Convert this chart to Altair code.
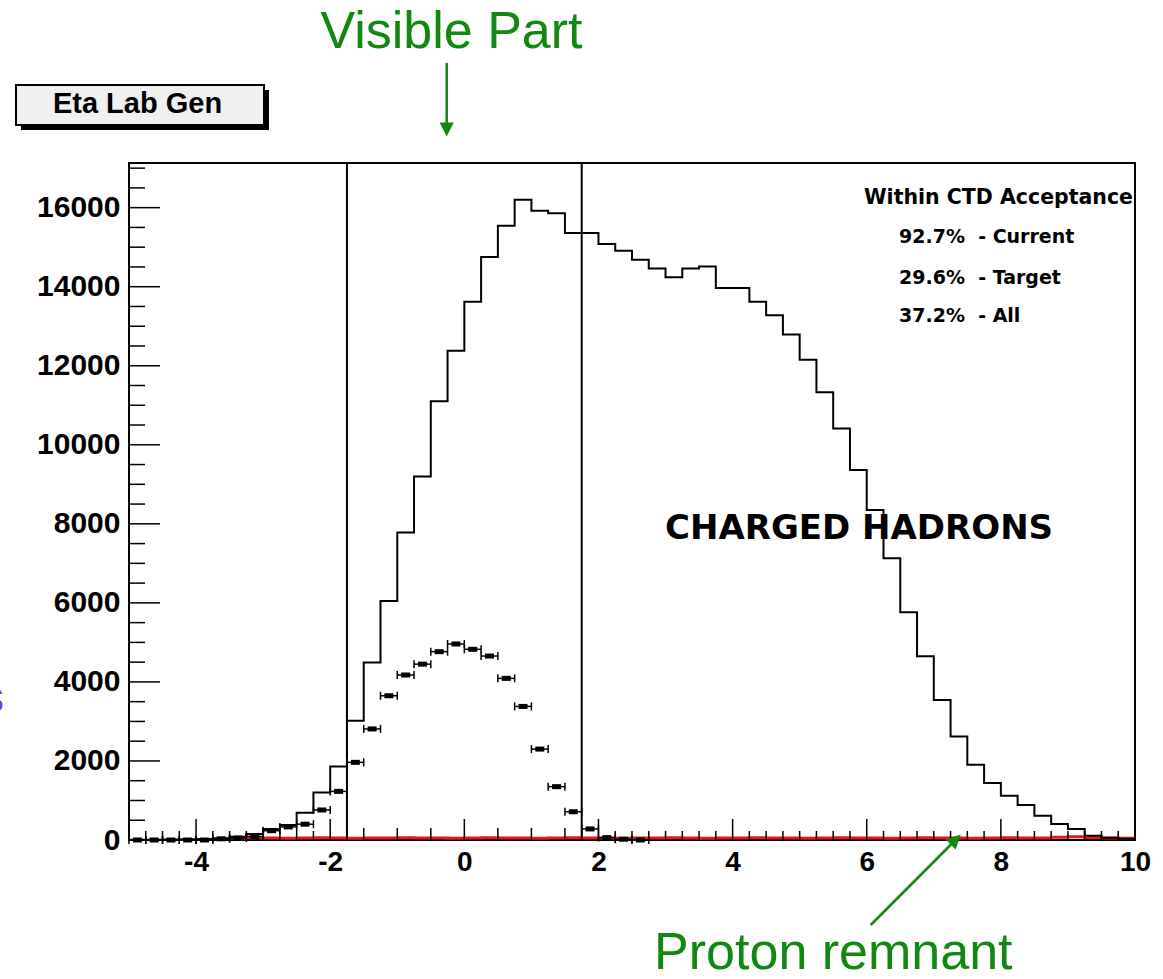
import altair as alt
import pandas as pd

# ---------------- data ----------------
BIN_W = 0.25
ETA_MIN, ETA_MAX = -5.0, 10.0

# "All" charged hadrons: 60 bins of 0.25 from -5 to 10
all_counts = [5, 8, 12, 18, 28, 45, 80, 150, 278, 380,
              690, 1200, 1860, 3020, 4490, 6050, 7780, 9200, 11100, 12380,
              13620, 14750, 15540, 16200, 15920, 15860, 15360, 15360, 15080, 14910,
              14680, 14460, 14240, 14460, 14510, 13970, 13970, 13620, 13280, 12790,
              12150, 11330, 10410, 9360, 8350, 7130, 5760, 4650, 3540, 2620,
              1905, 1440, 1120, 885, 615, 405, 278, 110, 60, 30]

# points with error bars (bins from -5 to 2.75)
pts_lo = [-5.0, -4.75, -4.5, -4.25, -4.0, -3.75, -3.5, -3.25, -3.0, -2.75,
          -2.5, -2.25, -2.0, -1.75, -1.5, -1.25, -1.0, -0.75, -0.5, -0.25,
          0.0, 0.25, 0.5, 0.75, 1.0, 1.25, 1.5, 1.75, 2.0, 2.25, 2.5]
pts_counts = [0, 0, 0, 0, 0, 30, 50, 90, 235, 330,
              400, 760, 1230, 1965, 2810, 3650, 4175, 4450, 4765, 4960,
              4825, 4655, 4090, 3380, 2300, 1350, 715, 280, 60, 20, 0]

# red (proton remnant) histogram along the baseline, bins from -3.5 to 10
red_lo_start = -3.5
red_counts = [50, 55, 50, 45, 50, 55, 50, 45, 50, 50,
              55, 50, 50, 45, 50, 55, 50, 50, 45, 50,
              55, 50, 50, 45, 50, 50, 55, 50, 45, 50,
              50, 55, 50, 50, 45, 50, 55, 50, 50, 45,
              50, 55, 50, 50, 45, 50, 55, 50, 50, 70,
              80, 60, 50, 45]

cut_lines = [-1.75, 1.75]
x_tick_vals = [-4, -2, 0, 2, 4, 6, 8, 10]
y_tick_vals = [0, 2000, 4000, 6000, 8000, 10000, 12000, 14000, 16000]

legend_lines = ["92.7%\u00a0 - Current", "29.6%\u00a0 - Target", "37.2%\u00a0 - All"]

# ---------------- layout ----------------
W, H = 1006, 677
OX, OY = 129, 163
YMAX = 17130
GREEN = "#118811"
LAB_FONT = "Liberation Sans"

xs = alt.Scale(domain=[ETA_MIN, ETA_MAX], nice=False, zero=False)
ys = alt.Scale(domain=[0, YMAX], nice=False, zero=False)

edges = [ETA_MIN + BIN_W * i for i in range(len(all_counts))]
hist_df = pd.DataFrame({"eta": edges + [ETA_MAX], "n": all_counts + [all_counts[-1]]})

red_edges = [red_lo_start + BIN_W * i for i in range(len(red_counts))]
red_df = pd.DataFrame({"eta": red_edges + [ETA_MAX], "n": red_counts + [red_counts[-1]]})

pts_df = pd.DataFrame({"lo": pts_lo, "n": pts_counts})
pts_df["hi"] = pts_df["lo"] + BIN_W
pts_df["mid"] = pts_df["lo"] + BIN_W / 2

x_axis = alt.Axis(values=x_tick_vals, ticks=False, domain=False, grid=False, title=None,
                  labelFont=LAB_FONT, labelFontWeight="bold", labelFontSize=28,
                  labelColor="black", labelPadding=8, labelFlush=False,
                  labelOverlap=False, labelBound=False,
                  labelExpr="datum.value < 0 ? '-' + abs(datum.value) : '' + datum.value")
y_axis = alt.Axis(values=y_tick_vals, ticks=False, domain=False, grid=False, title=None,
                  format="d", labelFont=LAB_FONT, labelFontWeight="bold", labelFontSize=30,
                  labelColor="black", labelPadding=9, labelOverlap=False)


def X(field):
    return alt.X(field, type="quantitative", scale=xs, axis=x_axis)


def Y(field):
    return alt.Y(field, type="quantitative", scale=ys, axis=y_axis)


red = alt.Chart(red_df).mark_line(interpolate="step-after", color="#e8141e", strokeWidth=3).encode(
    x=X("eta"), y=Y("n"))

hist = alt.Chart(hist_df).mark_line(interpolate="step-after", color="black", strokeWidth=2).encode(
    x=X("eta"), y=Y("n"))

err = alt.Chart(pts_df).mark_rule(color="black", strokeWidth=1.5).encode(
    x=X("lo"), x2="hi:Q", y=Y("n"))
cap_lo = alt.Chart(pts_df).mark_tick(orient="vertical", color="black", size=8, thickness=1.5, opacity=1).encode(
    x=X("lo"), y=Y("n"))
cap_hi = alt.Chart(pts_df).mark_tick(orient="vertical", color="black", size=8, thickness=1.5, opacity=1).encode(
    x=X("hi"), y=Y("n"))
marker = alt.Chart(pts_df).mark_tick(orient="horizontal", color="black", size=9, thickness=5, opacity=1).encode(
    x=X("mid"), y=Y("n"))

vlines = alt.Chart(pd.DataFrame({"eta": cut_lines})).mark_rule(color="black", strokeWidth=2).encode(
    x=X("eta"), y=alt.value(0), y2=alt.value(H))

# inward ticks
y_major = pd.DataFrame({"v": y_tick_vals})
y_minor = pd.DataFrame({"v": [v for v in range(500, 17001, 500) if v % 2000 != 0]})
ytick_major = alt.Chart(y_major).mark_rule(color="black", strokeWidth=1.5).encode(
    y=Y("v"), x=alt.value(0), x2=alt.value(31))
ytick_minor = alt.Chart(y_minor).mark_rule(color="black", strokeWidth=1.5).encode(
    y=Y("v"), x=alt.value(0), x2=alt.value(16))

x_major = pd.DataFrame({"v": [-4, -2, 0, 2, 4, 6, 8]})
quarter = [ETA_MIN + BIN_W * i for i in range(1, 60)]
x_minor_outer = [v for v in quarter if v % 2 != 0 and (v <= -1.75 or v >= 1.75)]
x_minor_mid = [v for v in quarter if v % 2 != 0 and -1.75 < v < 1.75 and (v * 2) == int(v * 2)]
xtick_major = alt.Chart(x_major).mark_rule(color="black", strokeWidth=1.5).encode(
    x=X("v"), y=alt.value(H), y2=alt.value(H - 21))
xtick_minor = alt.Chart(pd.DataFrame({"v": x_minor_outer})).mark_rule(color="black", strokeWidth=1.5).encode(
    x=X("v"), y=alt.value(H), y2=alt.value(H - 9))
xtick_mid = alt.Chart(pd.DataFrame({"v": x_minor_mid})).mark_rule(color="black", strokeWidth=1.5).encode(
    x=X("v"), y=alt.value(H), y2=alt.value(H - 12))

one = pd.DataFrame({"k": [0]})


def txt(s, x, y, **kw):
    return alt.Chart(one).mark_text(**kw).encode(x=alt.value(x), y=alt.value(y), text=alt.value(s))


# title box "Eta Lab Gen"
shadow = alt.Chart(one).mark_rect(color="black").encode(
    x=alt.value(-108), x2=alt.value(140), y=alt.value(-73), y2=alt.value(-33))
box = alt.Chart(one).mark_rect(fill="#f0f0f0", stroke="black", strokeWidth=2).encode(
    x=alt.value(-113), x2=alt.value(135), y=alt.value(-78), y2=alt.value(-38))
box_txt = txt("Eta Lab Gen", 8.5, -50, font=LAB_FONT, fontWeight="bold", fontSize=29,
              color="black", align="center", baseline="alphabetic")

# legend-like text block
leg_head = txt("Within CTD Acceptance", 735, 35, font="DejaVu Sans", fontWeight="bold", fontSize=20.5,
               color="black", align="left", baseline="middle")
leg_rows = [txt(s, 770, yy, font="DejaVu Sans", fontWeight="bold", fontSize=19, color="black",
                align="left", baseline="middle") for s, yy in zip(legend_lines, [74, 115, 153])]

charged = txt("CHARGED HADRONS", 536, 376, font="DejaVu Sans", fontWeight="bold", fontSize=34,
              color="black", align="left", baseline="alphabetic")

# green annotations
visible = txt("Visible Part", 322.5, -115, font=LAB_FONT, fontSize=52, color=GREEN,
              align="center", baseline="alphabetic")
down_line = alt.Chart(one).mark_rule(color=GREEN, strokeWidth=2.5).encode(
    x=alt.value(317.7), y=alt.value(-100), y2=alt.value(-36))
ARROW = "M0,1L-1,-1L1,-1Z"
down_head = alt.Chart(one).mark_point(shape=ARROW, filled=True, color=GREEN, size=200, opacity=1).encode(
    x=alt.value(317.7), y=alt.value(-33.5))

proton = txt("Proton remnant", 704.3, 806, font=LAB_FONT, fontSize=52, color=GREEN,
             align="center", baseline="alphabetic")
diag_line = alt.Chart(one).mark_rule(color=GREEN, strokeWidth=2.5).encode(
    x=alt.value(741.7), y=alt.value(762), x2=alt.value(827.5), y2=alt.value(676))
diag_head = alt.Chart(one).mark_point(shape=ARROW, filled=True, color=GREEN, size=200, opacity=1,
                                      angle=225).encode(x=alt.value(826.7), y=alt.value(676.6))

purple = txt("s", -125, 549, font=LAB_FONT, fontSize=44, color="#7f2fe8",
             align="right", baseline="alphabetic")

chart = alt.layer(
    red, hist, err, cap_lo, cap_hi, marker, vlines,
    ytick_major, ytick_minor, xtick_major, xtick_minor, xtick_mid,
    shadow, box, box_txt, leg_head, *leg_rows, charged,
    visible, down_line, down_head, proton, diag_line, diag_head, purple,
).properties(
    width=W, height=H,
    padding={"left": OX, "top": OY, "right": 1163 - OX - W, "bottom": 979 - OY - H},
    autosize=alt.AutoSizeParams(type="none"),
    background="white",
).configure_view(stroke="black", strokeWidth=2)

chart.save("out.html", embed_options={"renderer": "svg", "actions": False})
